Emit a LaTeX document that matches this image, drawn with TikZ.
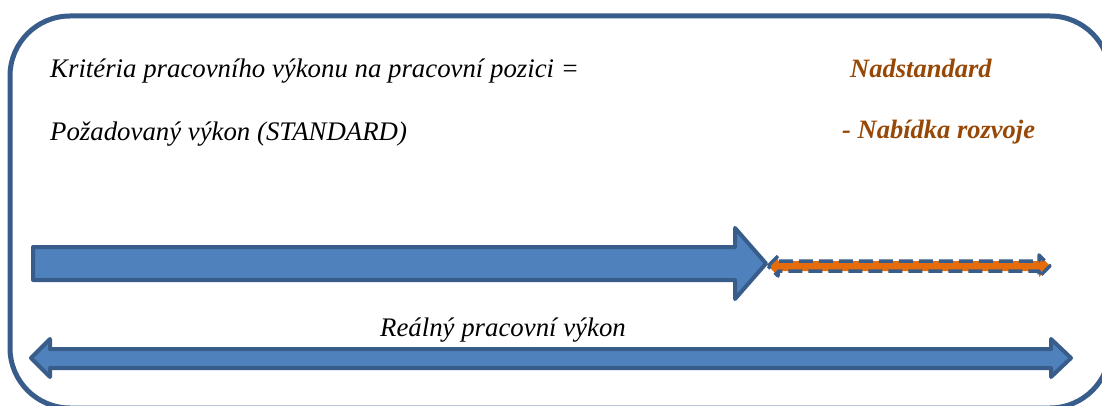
\documentclass[tikz,border=0pt]{standalone}
\usepackage{fontspec}
\setmainfont{Liberation Serif}
\definecolor{bluefill}{HTML}{4F81BD}
\definecolor{blueline}{HTML}{385D8A}
\definecolor{orangefill}{HTML}{E46C0A}
\definecolor{browntext}{HTML}{984806}
\tikzset{
  frame/.style={draw=blueline, line width=5pt, rounded corners=60pt},
  bigarrow/.style={draw=blueline, fill=bluefill, line width=4pt, line join=round},
  dasharrow/.style={draw=blueline, fill=orangefill, line width=3.5pt, dash pattern=on 14pt off 6pt, line join=round},
  txt/.style={anchor=base west, inner sep=0pt, font=\fontsize{26.8}{32}\selectfont\itshape},
  btxt/.style={anchor=base west, inner sep=0pt, text=browntext, font=\fontsize{26.5}{32}\selectfont\bfseries\itshape}
}
\begin{document}
\begin{tikzpicture}[x=1pt,y=-1pt]
\useasboundingbox[clip] (0,0) rectangle (1102,406);
\fill[white] (0,0) rectangle (1102,406);
% frame
\draw[frame] (10,16) rectangle (1110,408);
% texts
\node[txt] (t1) at (50,78) {Kritéria pracovního výkonu na pracovní pozici =};
\node[txt] (t2) at (50,141) {Požadovaný výkon (STANDARD)};
\node[btxt] (t3) at (850,78) {Nadstandard};
\node[btxt] (t4) at (842,139) {- Nabídka rozvoje};
\node[txt] (t5) at (380,336) {Reálný pracovní výkon};
% big arrow (standard)
\draw[bigarrow] (33,247) -- (735,247) -- (735,228) -- (766,263.5) -- (735,299) -- (735,280) -- (33,280) -- cycle;
% dashed double arrow (nadstandard)
\draw[dasharrow] (768,266) -- (778,256) -- (778,261) -- (1039,261) -- (1039,255) -- (1050,266) -- (1039,277) -- (1039,271) -- (778,271) -- (778,276) -- cycle;
% bottom double arrow
\draw[bigarrow] (31,358) -- (50,339) -- (50,349) -- (1051,349) -- (1051,339) -- (1071,358) -- (1051,377) -- (1051,368) -- (50,368) -- (50,377) -- cycle;
\end{tikzpicture}
\end{document}
